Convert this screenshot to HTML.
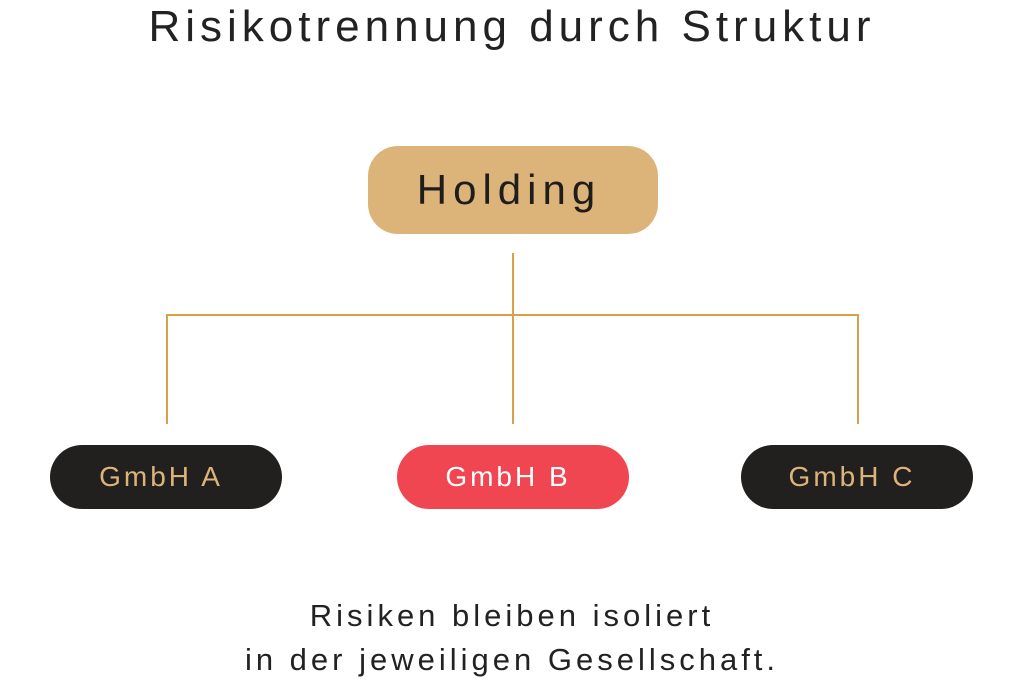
<!DOCTYPE html>
<html><head><style>
body{margin:0;width:1024px;height:683px;background:#fff;position:relative;overflow:hidden;font-family:"Liberation Sans",sans-serif;}
.t{position:absolute;left:0;width:1024px;text-align:center;color:#222;}
.box{position:absolute;display:flex;align-items:center;justify-content:center;}
.l{position:absolute;background:#d9a04a;}
</style></head><body>
<div class="t" style="top:2px;font-size:44px;letter-spacing:5px;">Risikotrennung durch Struktur</div>
<div class="box" style="left:368px;top:146px;width:290px;height:88px;border-radius:30px;background:#dcb47a;font-size:42px;letter-spacing:6px;color:#1f1c1c;"><span style="margin-left:-8px">Holding</span></div>
<div class="l" style="left:512px;top:253px;width:1.5px;height:171px;"></div>
<div class="l" style="left:166px;top:314px;width:693px;height:1.5px;"></div>
<div class="l" style="left:166px;top:314px;width:1.5px;height:110px;"></div>
<div class="l" style="left:857px;top:314px;width:1.5px;height:110px;"></div>
<div class="box" style="left:50px;top:445px;width:232px;height:64px;border-radius:32px;background:#221f1f;color:#dcb47a;font-size:28px;letter-spacing:3px;"><span style="margin-left:-10px">GmbH A</span></div>
<div class="box" style="left:397px;top:445px;width:232px;height:64px;border-radius:32px;background:#ef4651;color:#fff;font-size:28px;letter-spacing:3px;"><span style="margin-left:-10px">GmbH B</span></div>
<div class="box" style="left:741px;top:445px;width:232px;height:64px;border-radius:32px;background:#221f1f;color:#dcb47a;font-size:28px;letter-spacing:3px;"><span style="margin-left:-10px">GmbH C</span></div>
<div class="t" style="top:594px;font-size:31px;letter-spacing:4px;line-height:44px;">Risiken bleiben isoliert<br>in der jeweiligen Gesellschaft.</div>
</body></html>
